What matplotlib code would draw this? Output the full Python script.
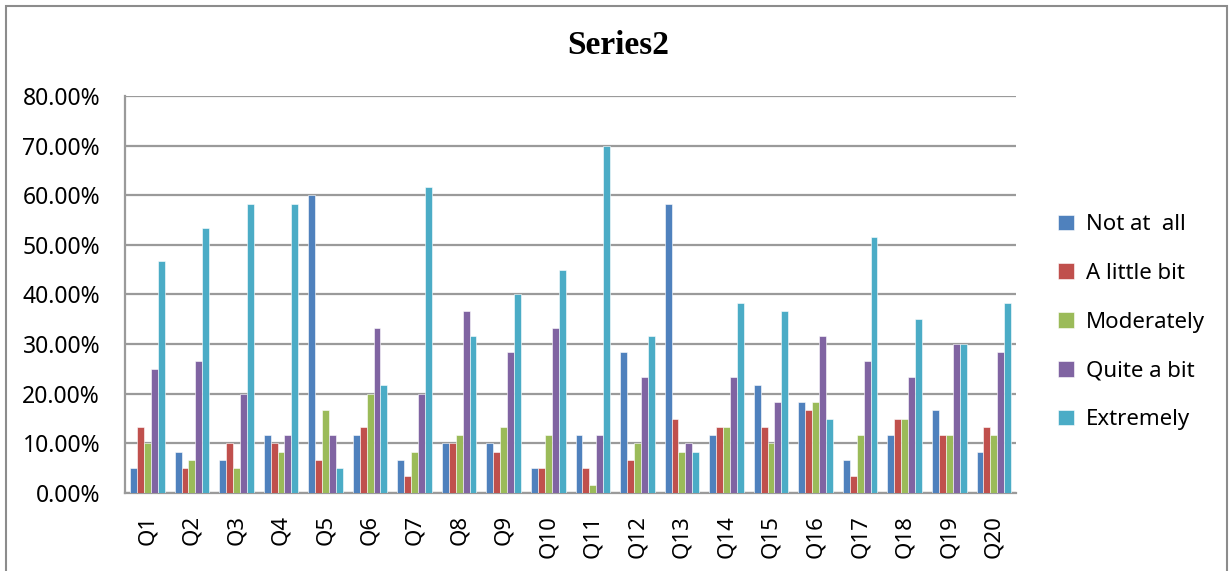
import matplotlib.pyplot as plt
import numpy as np
from matplotlib.patches import Rectangle
from matplotlib.ticker import FuncFormatter

# ---------------------------------------------------------------------------
# Data (percent of respondents)
# ---------------------------------------------------------------------------

QUESTIONS = [f"Q{i}" for i in range(1, 21)]
SERIES = ["Not at  all", "A little bit", "Moderately", "Quite a bit", "Extremely"]
COLORS = ["#4F81BD", "#C0504D", "#9BBB59", "#8064A2", "#4BACC6"]

not_at_all = [5.00, 8.33, 6.67, 11.67, 60.00, 11.67, 6.67, 10.00, 10.00, 5.00,
              11.67, 28.33, 58.33, 11.67, 21.67, 18.33, 6.67, 11.67, 16.67, 8.33]
a_little   = [13.33, 5.00, 10.00, 10.00, 6.67, 13.33, 3.33, 10.00, 8.33, 5.00,
              5.00, 6.67, 15.00, 13.33, 13.33, 16.67, 3.33, 15.00, 11.67, 13.33]
moderately = [10.00, 6.67, 5.00, 8.33, 16.67, 20.00, 8.33, 11.67, 13.33, 11.67,
              1.67, 10.00, 8.33, 13.33, 10.00, 18.33, 11.67, 15.00, 11.67, 11.67]
quite_bit  = [25.00, 26.67, 20.00, 11.67, 11.67, 33.33, 20.00, 36.67, 28.33, 33.33,
              11.67, 23.33, 10.00, 23.33, 18.33, 31.67, 26.67, 23.33, 30.00, 28.33]
extremely  = [46.67, 53.33, 58.33, 58.33, 5.00, 21.67, 61.67, 31.67, 40.00, 45.00,
              70.00, 31.67, 8.33, 38.33, 36.67, 15.00, 51.67, 35.00, 30.00, 38.33]

VALUES = [not_at_all, a_little, moderately, quite_bit, extremely]

# ---------------------------------------------------------------------------
# Plot
# ---------------------------------------------------------------------------

def main() -> None:
    plt.rcParams["font.family"] = ["Noto Sans", "DejaVu Sans"]

    fig = plt.figure(figsize=(12.31, 5.71), dpi=100)
    ax = fig.add_axes([0.1016, 0.1366, 0.7238, 0.6953])

    # outer chart frame
    fig.patches.append(Rectangle((0.005, -0.01), 0.992, 1.0, transform=fig.transFigure,
                                 fill=False, edgecolor="#8c8c8c", linewidth=1.5))

    x = np.arange(len(QUESTIONS))
    width = 0.155
    for i, (name, vals, col) in enumerate(zip(SERIES, VALUES, COLORS)):
        ax.bar(x + (i - 2) * width, vals, width, color=col, label=name,
               edgecolor="white", linewidth=0.4, zorder=3)

    ax.set_xlim(-0.5, len(QUESTIONS) - 0.5)
    ax.set_ylim(0, 80)
    ax.set_yticks(np.arange(0, 81, 10))
    ax.yaxis.set_major_formatter(FuncFormatter(lambda v, _: f"{v:.2f}%"))
    ax.set_xticks(x)
    ax.set_xticklabels(QUESTIONS, rotation=90)
    ax.tick_params(axis="both", length=0)
    ax.tick_params(axis="y", pad=18, labelsize=16.5)
    ax.tick_params(axis="x", pad=16, labelsize=16)

    ax.grid(axis="y", color="#9a9a9a", linewidth=1.6, zorder=0)
    for side in ["top", "right"]:
        ax.spines[side].set_visible(False)
    for side in ["left", "bottom"]:
        ax.spines[side].set_color("#9a9a9a")
        ax.spines[side].set_linewidth(1.6)

    fig.text(0.502, 1 - 45 / 571, "Series2", fontsize=24, fontweight="bold",
             family="Liberation Serif", ha="center", va="center")

    ax.legend(loc="center left", bbox_to_anchor=(1.025, 0.43), frameon=False,
              fontsize=16, handlelength=0.7, handleheight=0.7,
              labelspacing=1.25, handletextpad=0.55)

    fig.savefig("out.png", dpi=100)
    plt.close(fig)


if __name__ == "__main__":
    main()
